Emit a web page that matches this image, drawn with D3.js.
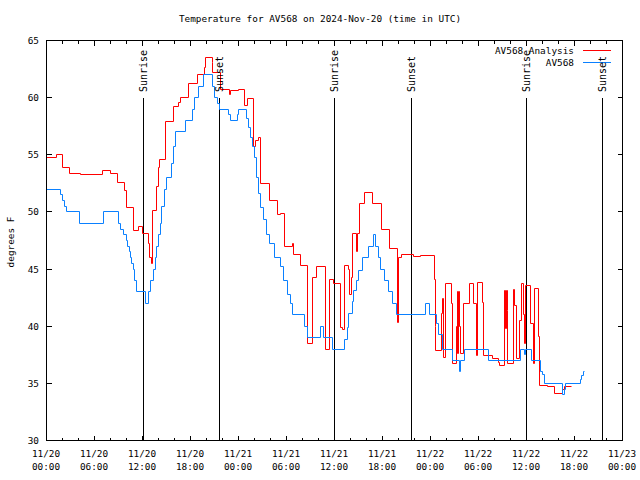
<!DOCTYPE html>
<html><head><meta charset="utf-8">
<script src="https://cdn.jsdelivr.net/npm/d3@7"></script>
<style>
body{margin:0;background:#fff}
text{font-family:"DejaVu Sans Mono","Liberation Mono",monospace;font-size:9.4px;fill:#000}
</style>
</head><body>
<svg id="chart" width="640" height="480"></svg>
<script>
// ---- data (hours since 2024-11-20 00:00 UTC, temperature in F) ----
const stationHours = [0,1.75,2.0,2.2,2.45,4.1,7.15,9.0,9.2,9.6,10.0,10.15,10.35,10.5,10.65,10.85,11.05,11.3,12.4,12.75,13.05,13.4,13.6,13.8,14.0,14.2,14.4,14.7,15.05,15.6,15.9,16.1,17.4,18.2,18.5,19.0,19.6,20.8,21.05,21.35,21.6,22.8,23.0,23.9,24.0,25.0,25.2,25.5,25.7,26.0,26.3,26.5,26.8,27.1,27.5,27.9,28.5,29.2,29.65,30.15,30.5,30.8,32.2,32.6,34.25,34.6,35.7,37.2,37.6,37.8,38.2,38.4,38.75,39.0,39.5,40.2,40.9,41.1,41.5,41.8,42.2,42.7,43.2,43.7,47.4,47.9,48.8,49.0,49.5,50.7,51.6,51.8,52.3,55.3,59.2,59.75,59.9,60.6,61.7,61.95,62.3,64.5,64.7,64.9,66.7,66.85,67.1,67.2];
const stationTemps = [52,51.5,51,50.5,50,49,50,49,48.5,48,47.5,47,46.5,46,45.5,45,44,43,42,43,44,45,46,47,48,49,50.5,52,53,54.2,55.7,57,58,59,60,61,62,61,60,59.5,59,58.5,58,58.5,59,58.2,57.4,56.5,55.7,54.8,53,51.6,50.4,49.3,48,47.2,46,45.2,44,42.8,42,41,40,39,40,39,38,38.8,39.9,41.1,42.2,43.1,44,44.9,46,47,48,47,46,45,44,43,42,41,42,41,40.2,39.3,38,37,36,37,38,37,38,37.5,38,37,36,35.8,35,34,34.5,35,35.3,35.7,36,36];

const analysisHours = [0,1.25,1.95,2.9,4.25,6.95,8.0,8.9,9.8,10.0,10.9,11.55,11.95,12.7,12.9,13.1,13.3,13.8,14.05,14.15,14.9,15.85,16.5,16.75,17.7,18.85,19.75,19.9,20.7,20.8,21.75,22.85,23.0,24.05,24.75,25.1,25.85,26.1,26.55,26.75,27.9,28.9,29.25,29.8,30.7,30.85,31.75,32.65,33.2,33.75,34.85,35.4,35.9,36.75,36.95,37.25,37.8,37.9,38.1,38.2,38.75,38.9,39.15,39.8,40.8,41.85,42.9,43.85,43.95,44.4,45.85,46.75,48.5,48.6,48.65,49.4,49.45,49.6,49.9,50.6,50.7,51.2,51.35,51.4,51.45,51.65,51.75,52.15,52.9,53.4,53.7,53.9,54.45,54.65,55.7,56.45,56.6,57.3,57.4,57.5,57.6,57.65,58.35,58.5,58.75,59.15,59.4,59.6,59.75,59.9,60.55,60.85,61.05,61.55,61.65,62.6,63.55,64.45,64.75,65.6];
const analysisTemps = [54.8,55.0,53.9,53.4,53.3,53.6,53.4,52.6,51.9,50.4,48.4,48.7,48.1,47.2,46.0,45.5,50.1,52.2,53.9,54.6,57.9,59.2,59.6,60.0,61.2,62.0,62.6,63.5,63.1,62.2,60.7,60.3,60.6,60.75,59.3,59.9,55.7,56.25,56.5,52.45,51.0,49.8,49.9,46.95,47.25,46.3,45.3,38.5,44.3,45.2,38.0,44.1,43.7,39.9,39.7,45.3,45.0,42.8,44.3,48.1,46.5,48.1,50.7,51.7,50.7,48.5,46.8,40.3,46.0,46.3,46.1,46.2,44.1,40.0,37.9,41.1,42.4,37.3,43.7,42.0,36.7,40.0,43.0,37.6,43.0,40.0,37.6,42.0,43.7,42.0,37.4,43.85,42.1,37.4,37.15,36.85,36.56,43.1,39.8,43.1,41.4,36.7,43.2,41.8,37.15,40.5,43.7,41.0,38.5,43.6,40.2,36.7,43.3,39.1,34.8,34.7,34.1,34.5,34.7,34.7];

const sunHours = [12.08, 21.68, 36.0, 45.62, 60.06, 69.5];
const sunLabels = ["Sunrise","Sunset","Sunrise","Sunset","Sunrise","Sunset"];
const yTickValues = [30,35,40,45,50,55,60,65];
const seriesNames = ["AV568 Analysis","AV568"];
const seriesColors = ["#ff0000","#0a80ff"];
const titleText = "Temperature for AV568 on 2024-Nov-20 (time in UTC)";
const yLabelText = "degrees F";

// ---- drawing ----
const base = Date.UTC(2024,10,20,0,0,0);
const toDate = h => new Date(base + h*3600e3);
const L=46, R=622, T=40, B=440;
const x = d3.scaleUtc().domain([toDate(0), toDate(72)]).range([L,R]);
const y = d3.scaleLinear().domain([30,65]).range([B,T]);
const svg = d3.select("#chart");
const g = svg.append("g").attr("transform","translate(0.5,0.5)");

// title
svg.append("text").attr("x",320).attr("y",22).attr("text-anchor","middle").text(titleText);

// y label
svg.append("text").attr("transform","translate(14,242) rotate(-90)").attr("text-anchor","middle").text(yLabelText);

// ticks
const ax = g.append("g").attr("stroke","#000").attr("shape-rendering","crispEdges");
const majors = d3.utcHour.every(6).range(toDate(0), toDate(72.01));
const minors = d3.utcHour.every(2).range(toDate(0), toDate(72.01));
minors.forEach(d=>{
  const xx=Math.round(x(d));
  const len = (d.getUTCHours()%6===0)?5:3;
  ax.append("line").attr("x1",xx).attr("x2",xx).attr("y1",B).attr("y2",B-len);
  ax.append("line").attr("x1",xx).attr("x2",xx).attr("y1",T).attr("y2",T+len);
});
yTickValues.forEach(v=>{
  const yy=Math.round(y(v));
  ax.append("line").attr("x1",L).attr("x2",L+5).attr("y1",yy).attr("y2",yy);
  ax.append("line").attr("x1",R).attr("x2",R-5).attr("y1",yy).attr("y2",yy);
  svg.append("text").attr("x",39).attr("y",yy+3.5).attr("text-anchor","end").text(v);
});
const fmtD = d3.utcFormat("%m/%d"), fmtT = d3.utcFormat("%H:%M");
majors.forEach(d=>{
  const xx=x(d);
  const t = svg.append("text").attr("text-anchor","middle");
  t.append("tspan").attr("x",xx).attr("y",457).text(fmtD(d));
  t.append("tspan").attr("x",xx).attr("y",470).text(fmtT(d));
});

// sunrise / sunset lines
sunHours.forEach((h,i)=>{
  const xx=Math.round(x(toDate(h)));
  g.append("line").attr("x1",xx).attr("x2",xx).attr("y1",97).attr("y2",B)
    .attr("stroke","#000").attr("shape-rendering","crispEdges");
  svg.append("text").attr("transform",`translate(${xx+0.5},92) rotate(-90)`)
    .attr("text-anchor","start").attr("dy","0.35em").style("font-size","10px").text(sunLabels[i]);
});

// series
const line = d3.line().x(d=>Math.round(x(toDate(d[0])))).y(d=>Math.round(y(d[1]))).curve(d3.curveStepAfter);
const analysis = analysisHours.map((h,i)=>[h,analysisTemps[i]]);
const station = stationHours.map((h,i)=>[h,stationTemps[i]]);
g.append("path").datum(analysis).attr("d",line).attr("fill","none").attr("stroke",seriesColors[0]).attr("stroke-width",1);
g.append("path").datum(station).attr("d",line).attr("fill","none").attr("stroke",seriesColors[1]).attr("stroke-width",1);

// legend
seriesNames.forEach((n,i)=>{
  const yy = 50 + i*12;
  svg.append("text").attr("x",574).attr("y",yy+3.5).attr("text-anchor","end").text(n);
  g.append("line").attr("x1",582).attr("x2",610).attr("y1",yy).attr("y2",yy)
    .attr("stroke",seriesColors[i]).attr("shape-rendering","crispEdges");
});

// border
g.append("rect").attr("x",L).attr("y",T).attr("width",R-L).attr("height",B-T)
  .attr("fill","none").attr("stroke","#000").attr("shape-rendering","crispEdges");
</script>
</body></html>
